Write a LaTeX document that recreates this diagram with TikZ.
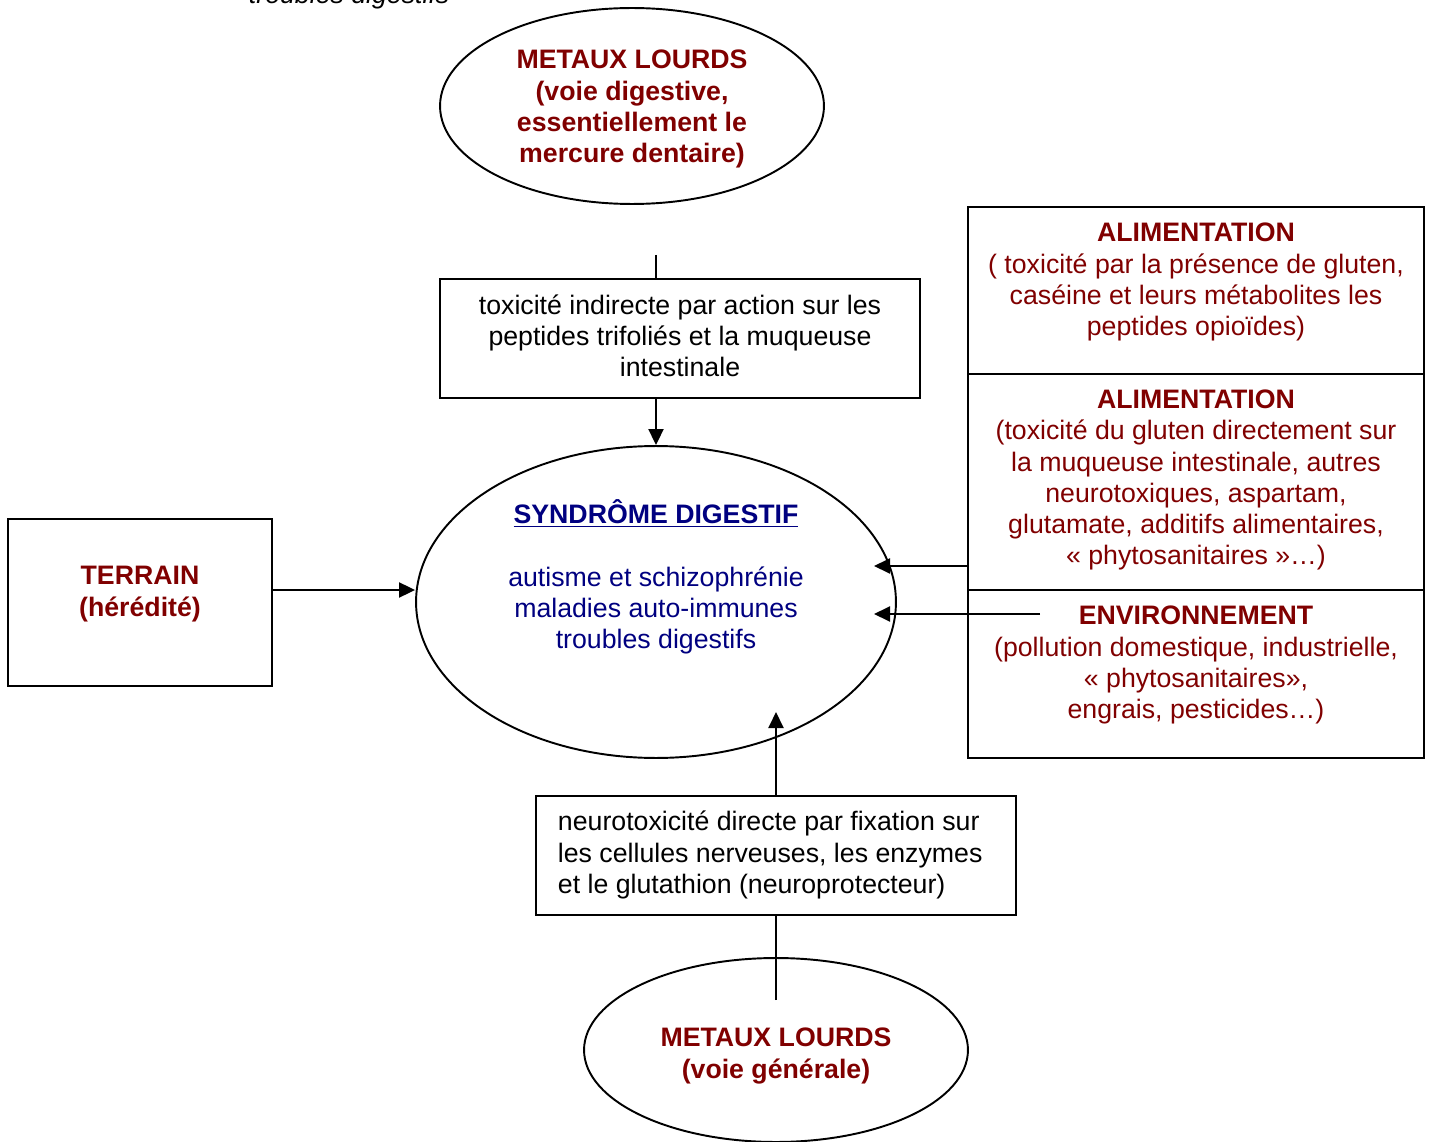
\documentclass[tikz,border=0pt]{standalone}
\usepackage{fontspec}
\setmainfont{Liberation Sans}
\usetikzlibrary{shapes.geometric,arrows.meta}
\definecolor{darkred}{RGB}{128,0,0}
\definecolor{navyblue}{RGB}{0,0,128}
\begin{document}
\begin{tikzpicture}[x=0.02cm,y=-0.02cm,line width=1.1pt,
  every node/.style={font=\fontsize{15.2}{17.7}\selectfont,inner sep=0pt},
  oval/.style={draw,ellipse},
  box/.style={draw,rectangle},
  redtxt/.style={text=darkred,align=center},
  >={Triangle[length=0.32cm,width=0.3cm]}]
\useasboundingbox (0,0) rectangle (1431,1142);
\clip (0,0) rectangle (1431,1142);
% cut off line at the top
\node[anchor=base west,font=\fontsize{15.2}{17.7}\selectfont\itshape] (cut) at (248,4) {troubles digestifs};
% ovals
\node[oval,minimum width=7.68cm,minimum height=3.92cm] (mdig) at (632,106) {};
\node[redtxt,font=\fontsize{15.2}{17.7}\selectfont\bfseries] (mdigtxt) at (632,109)
  {METAUX LOURDS\\(voie digestive,\\essentiellement le\\mercure dentaire)};
\node[oval,minimum width=9.6cm,minimum height=6.24cm] (syn) at (656,602) {};
\node[text=navyblue,align=center] (syntxt) at (656,577)
  {\textbf{\underline{SYNDRÔME DIGESTIF}}\\[18pt]autisme et schizophrénie\\maladies auto-immunes\\troubles digestifs};
\node[oval,minimum width=7.68cm,minimum height=3.68cm] (mgen) at (776,1050) {};
\node[redtxt,font=\fontsize{15.2}{18.3}\selectfont\bfseries] (mgentxt) at (776,1056)
  {METAUX LOURDS\\(voie générale)};
% boxes
\node[box,minimum width=9.6cm,minimum height=2.38cm] (indir) at (680,338.5) {};
\node[align=center] (indirtxt) at (680,336)
  {toxicité indirecte par action sur les\\peptides trifoliés et la muqueuse\\intestinale};
\node[box,minimum width=5.28cm,minimum height=3.34cm] (terrain) at (140,602.5) {};
\node[redtxt,font=\fontsize{15.2}{18.3}\selectfont\bfseries] (terraintxt) at (140,594)
  {TERRAIN\\(hérédité)};
\node[box,minimum width=9.12cm,minimum height=3.34cm] (alimA) at (1196,290.5) {};
\node[redtxt] (alimAtxt) at (1196,282)
  {\textbf{ALIMENTATION}\\( toxicité par la présence de gluten,\\caséine et leurs métabolites les\\peptides opioïdes)};
\node[box,minimum width=9.12cm,minimum height=4.32cm] (alimB) at (1196,482) {};
\node[redtxt] (alimBtxt) at (1196,480)
  {\textbf{ALIMENTATION}\\(toxicité du gluten directement sur\\la muqueuse intestinale, autres\\neurotoxiques, aspartam,\\glutamate, additifs alimentaires,\\« phytosanitaires »…)};
\node[box,minimum width=9.12cm,minimum height=3.36cm] (env) at (1196,674) {};
\node[redtxt] (envtxt) at (1196,665)
  {\textbf{ENVIRONNEMENT}\\(pollution domestique, industrielle,\\« phytosanitaires»,\\engrais, pesticides…)};
\node[box,minimum width=9.6cm,minimum height=2.38cm] (direct) at (776,855.5) {};
\node[align=left,anchor=west] (directtxt) at (557,855)
  {neurotoxicité directe par fixation sur\\les cellules nerveuses, les enzymes\\et le glutathion (neuroprotecteur)};
% connectors
\coordinate (topgap) at (656,255);
\coordinate (botgap) at (776,1000);
\coordinate (envstart) at (1040,614);
\coordinate (tipA) at (874,566);
\coordinate (tipB) at (874,614);
\coordinate (tipC) at (776,712);
\draw (topgap) -- (topgap |- indir.north);
\draw[->] (indir.south -| syn.north) -- (syn.north);
\draw[->] (terrain.east |- 0,590) -- (syn.west |- 0,590);
\draw[->] (alimB.west |- tipA) -- (tipA);
\draw[->] (envstart) -- (tipB);
\draw (botgap) -- (direct.south);
\draw[->] (direct.north) -- (tipC);
\end{tikzpicture}
\end{document}
